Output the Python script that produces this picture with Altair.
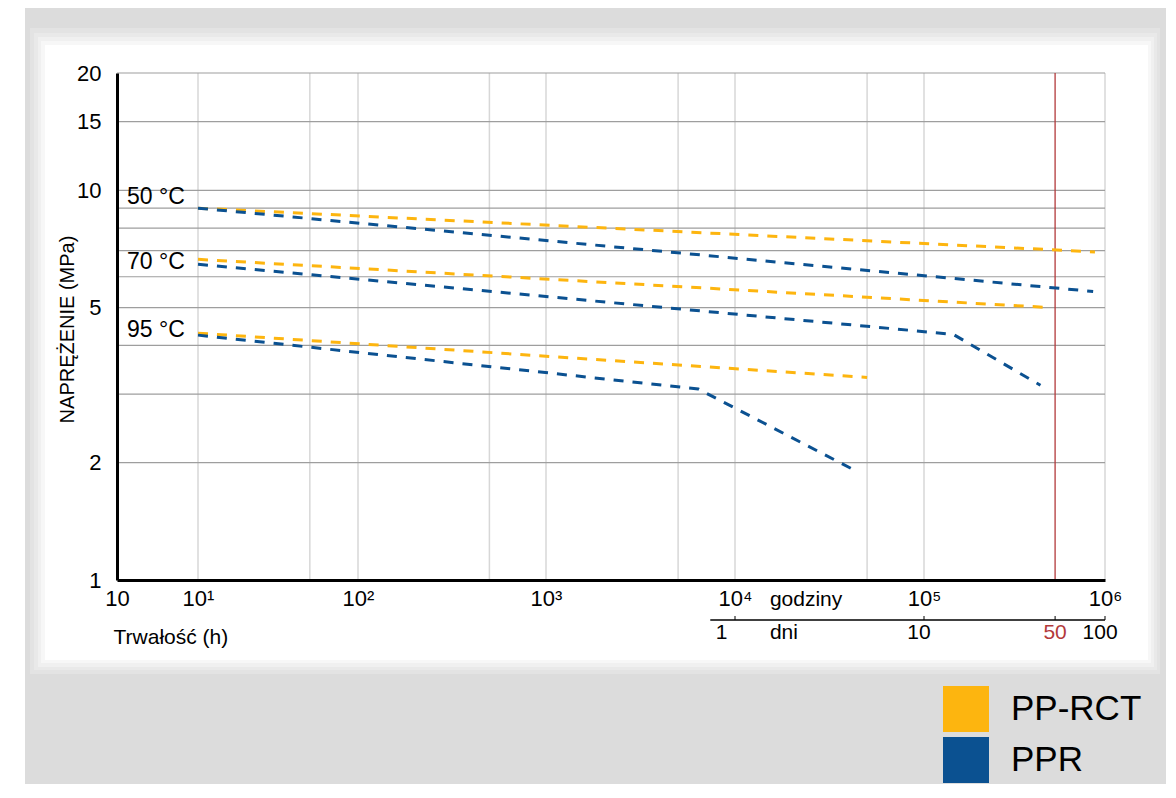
import altair as alt
import pandas as pd

# ---------------- data ----------------
materials = ["PP-RCT", "PPR"]
temps = ["50 °C", "70 °C", "95 °C"]

# time (h) and stress (MPa) of every curve
rct50_t = [10, 8.8e5]
rct50_v = [9.0, 6.95]
ppr50_t = [10, 8.6e5]
ppr50_v = [9.0, 5.5]
rct70_t = [10, 5e5]
rct70_v = [6.65, 5.0]
ppr70_t = [10, 1.45e5, 4.4e5]
ppr70_v = [6.46, 4.27, 3.16]
rct95_t = [10, 5e4]
rct95_v = [4.30, 3.31]
ppr95_t = [10, 6.4e3, 4.5e4]
ppr95_v = [4.25, 3.09, 1.89]

temp_label_v = [9.6, 6.54, 4.38]

x_knots = [1, 10, 100, 1e3, 1e4, 1e5, 1e6]
x_knot_labels = ["10", "10¹", "10²", "10³", "10⁴", "10⁵", "10⁶"]
x_grid = [10, 50, 100, 500, 1e3, 5e3, 1e4, 5e4, 1e5, 1e6]
y_grid = [2, 3, 4, 5, 6, 7, 8, 9, 10, 15, 20]
y_ticks = [1, 2, 3, 4, 5, 6, 7, 8, 9, 10, 15, 20]
y_labels = [1, 2, 5, 10, 15, 20]

day_labels = ["1", "10", "50", "100"]
day_label_t = [8.5e3, 9.4e4, 5.3e5, 9.4e5]
day_tick_t = [1e4, 1e5, 5.3e5, 1e6]
day_axis_span = [7.4e3, 1e6]
fifty_years_t = 5.3e5
unit_label_t = 1.53e4
unit_labels = ["godziny", "dni"]

# ---------------- styles ----------------
ORANGE = "#FDB50F"
BLUE = "#0B5191"
GRID_H = "#9e9e9e"
GRID_V = "#d7d7d7"
RED = "#b3393a"
BG_GRAY = "#dcdcdc"
FONT = "Liberation Sans"
W, H = 988, 507
x_range = [0, 81, 241, 429, 618, 807, 988]

# ---------------- tables ----------------
series = [
    ("PP-RCT", "50 °C", rct50_t, rct50_v),
    ("PPR", "50 °C", ppr50_t, ppr50_v),
    ("PP-RCT", "70 °C", rct70_t, rct70_v),
    ("PPR", "70 °C", ppr70_t, ppr70_v),
    ("PP-RCT", "95 °C", rct95_t, rct95_v),
    ("PPR", "95 °C", ppr95_t, ppr95_v),
]
rows = []
for mat, tmp, ts, vs in series:
    for t, v in zip(ts, vs):
        rows.append({"material": mat, "temp": tmp, "t": t, "v": v})
lines_df = pd.DataFrame(rows)
legend_df = pd.DataFrame({"tworzywo": materials, "t": [10, 10], "v": [9.0, 9.0]})


def label_expr(vals, labels):
    expr = "''"
    for v, l in reversed(list(zip(vals, labels))):
        expr = f"datum.value == {v} ? '{l}' : ({expr})"
    return expr


xscale = alt.Scale(type="log", domain=x_knots, range=x_range, nice=False)
yscale = alt.Scale(type="log", domain=[1, 20], nice=False)

xaxis = alt.Axis(
    values=x_knots + [50, 500, 5000, 5e4],
    labelExpr=label_expr(x_knots, x_knot_labels),
    title="Trwałość (h)", titleX=-4, titleY=63, titleAlign="left",
    titleBaseline="alphabetic", titleFontSize=21, titleFontWeight="normal",
    titleFont=FONT, titleColor="black",
    labelFont=FONT, labelFontSize=22, labelColor="black", labelPadding=8,
    labelFlush=False, labelOverlap=False,
    ticks=False, tickSize=0, grid=False,
    domainColor="black", domainWidth=3, zindex=1,
)
yaxis = alt.Axis(
    values=y_ticks,
    labelExpr=f"indexof({y_labels}, datum.value) >= 0 ? datum.label : ''",
    title="NAPRĘŻENIE (MPa)", titleX=-44, titleY=256,
    titleBaseline="alphabetic", titleAlign="center",
    titleFontSize=20, titleFontWeight="normal", titleFont=FONT, titleColor="black",
    labelFont=FONT, labelFontSize=22, labelColor="black", labelPadding=16,
    labelOverlap=False, labelBaseline="middle",
    ticks=False, tickSize=0, grid=False,
    domainColor="black", domainWidth=3, zindex=1,
)

X = alt.X("t:Q", scale=xscale, axis=xaxis)
Y = alt.Y("v:Q", scale=yscale, axis=yaxis)

one = pd.DataFrame({"k": [0]})

# background panel (gray frame with soft white card)
panel_layers = []
panel_boxes = [
    (-92, 1060, -65, 711, BG_GRAY),
    (-87, 1043, -45, 601, "#e3e3e3"),
    (-83, 1040, -40, 597, "#e9e9e9"),
    (-79, 1037, -36, 594, "#f0f0f0"),
    (-76, 1034, -32, 590, "#f7f7f7"),
    (-72, 1031, -28, 587, "#ffffff"),
]
for x0, x1, y0, y1, c in panel_boxes:
    panel_layers.append(
        alt.Chart(one).mark_rect(color=c).encode(
            x=alt.value(x0), x2=alt.value(x1), y=alt.value(y0), y2=alt.value(y1)
        )
    )

vgrid_df = pd.DataFrame({"t": x_grid, "v": [1] * len(x_grid), "v2": [20] * len(x_grid)})
vgrid = alt.Chart(vgrid_df).mark_rule(color=GRID_V, strokeWidth=1.5).encode(
    x=X, y=Y, y2="v2:Q"
)
hgrid_df = pd.DataFrame({"v": y_grid, "t": [1] * len(y_grid), "t2": [1e6] * len(y_grid)})
hgrid = alt.Chart(hgrid_df).mark_rule(color=GRID_H, strokeWidth=1.2).encode(
    x=X, x2="t2:Q", y=Y
)
red_df = pd.DataFrame({"t": [fifty_years_t], "v": [1], "v2": [20]})
red_rule = alt.Chart(red_df).mark_rule(color=RED, strokeWidth=1.3).encode(
    x=X, y=Y, y2="v2:Q"
)

# filled-square legend (invisible marks, visible legend entries)
legend_layer = alt.Chart(legend_df).mark_square(filled=True, opacity=0, size=4).encode(
    x=X, y=Y,
    fill=alt.Fill(
        "tworzywo:N",
        scale=alt.Scale(domain=materials, range=[ORANGE, BLUE]),
        legend=alt.Legend(
            title=None, orient="none", legendX=826, legendY=613,
            symbolType="square", symbolSize=2116, symbolStrokeWidth=0,
            symbolOpacity=1,
            labelFont=FONT, labelFontSize=35, labelColor="black",
            labelOffset=22, rowPadding=5, padding=0,
        ),
    ),
)

lines = alt.Chart(lines_df).mark_line(strokeWidth=3, strokeDash=[10, 9]).encode(
    x=X, y=Y,
    stroke=alt.Stroke(
        "material:N",
        scale=alt.Scale(domain=materials, range=[ORANGE, BLUE]),
        legend=None,
    ),
    detail="temp:N",
)

temp_df = pd.DataFrame({"label": temps, "t": [1] * len(temps), "v": temp_label_v})
temp_text = alt.Chart(temp_df).mark_text(
    align="left", baseline="middle", dx=10, font=FONT, fontSize=23, color="black"
).encode(x=X, y=Y, text="label:N")

# second (days) scale under the axis
span_df = pd.DataFrame({"t": [day_axis_span[0]], "t2": [day_axis_span[1]]})
day_line = alt.Chart(span_df).mark_rule(color="black", strokeWidth=1.5).encode(
    x=X, x2="t2:Q", y=alt.value(547)
)
tick_df = pd.DataFrame({"t": day_tick_t})
day_ticks = alt.Chart(tick_df).mark_rule(color="black", strokeWidth=1).encode(
    x=X, y=alt.value(543), y2=alt.value(547)
)
dl_df = pd.DataFrame({"t": day_label_t, "label": day_labels})
day_text = alt.Chart(dl_df).mark_text(
    align="center", baseline="middle", font=FONT, fontSize=21
).encode(
    x=X, y=alt.value(560), text="label:N",
    color=alt.condition("datum.label == '50'", alt.value(RED), alt.value("black")),
)
unit_df = pd.DataFrame({"t": [unit_label_t], "label": [unit_labels[0]]})
unit_text1 = alt.Chart(unit_df).mark_text(
    align="left", baseline="middle", font=FONT, fontSize=21, color="black"
).encode(x=X, y=alt.value(527), text="label:N")
unit_df2 = pd.DataFrame({"t": [unit_label_t], "label": [unit_labels[1]]})
unit_text2 = alt.Chart(unit_df2).mark_text(
    align="left", baseline="middle", font=FONT, fontSize=21, color="black"
).encode(x=X, y=alt.value(560), text="label:N")

chart = alt.layer(
    *panel_layers, vgrid, hgrid, red_rule, legend_layer, lines, temp_text,
    day_line, day_ticks, day_text, unit_text1, unit_text2,
).properties(
    width=W, height=H,
    autosize=alt.AutoSizeParams(type="none"),
    padding={"left": 109, "top": 65, "right": 61, "bottom": 204},
    background="white",
).resolve_legend(fill="independent", stroke="independent").configure_view(strokeWidth=0)

chart.save("out.html", embed_options={"renderer": "svg", "actions": False})
